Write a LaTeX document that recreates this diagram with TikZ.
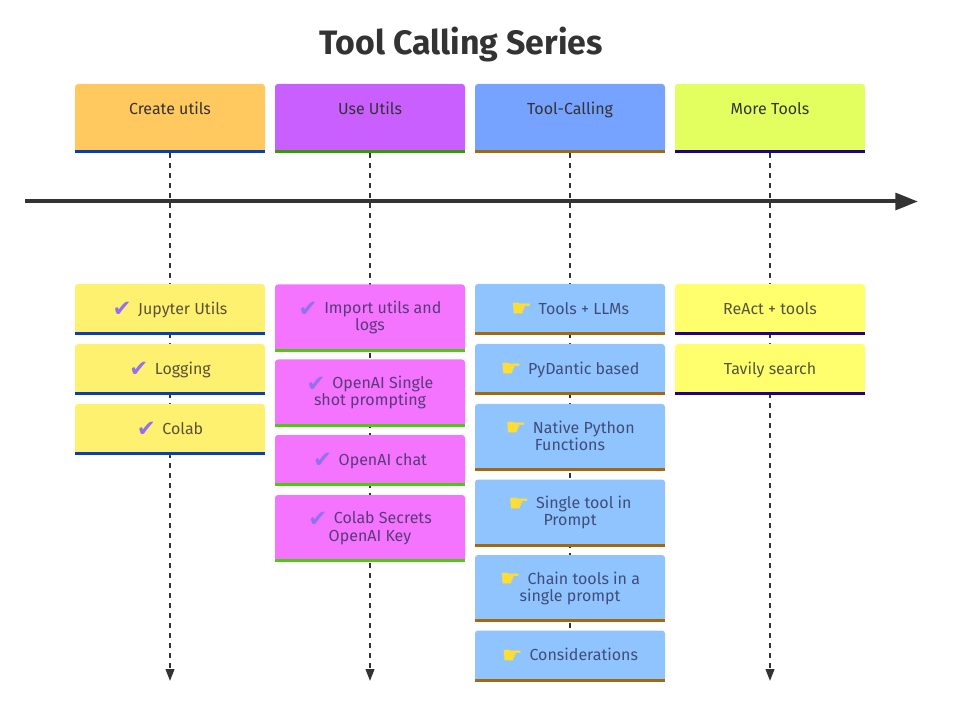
\documentclass[tikz,border=0pt]{standalone}
\usepackage{fontspec}
\setmainfont{Fira Sans}
\newfontfamily\symbolfont{DejaVu Sans}
\usetikzlibrary{arrows.meta,backgrounds}
\definecolor{headOrange}{HTML}{FFC95F}
\definecolor{headPurple}{HTML}{C95FFF}
\definecolor{headBlue}{HTML}{75A3FF}
\definecolor{headLime}{HTML}{E3FF5F}
\definecolor{cardYellow}{HTML}{FFF170}
\definecolor{cardPink}{HTML}{F473FF}
\definecolor{cardBlue}{HTML}{90C4FF}
\definecolor{cardLemon}{HTML}{FFFF6E}
\definecolor{barNavy}{HTML}{0A3DB8}
\definecolor{barGreen}{HTML}{2FA000}
\definecolor{barLeaf}{HTML}{4BCB0B}
\definecolor{barBrown}{HTML}{A3690E}
\definecolor{barIndigo}{HTML}{20008F}
\definecolor{lineGrey}{HTML}{333333}
\definecolor{textBrown}{HTML}{5A5238}
\definecolor{textPlum}{HTML}{5A3A78}
\definecolor{textSlate}{HTML}{3F4D7A}
\definecolor{textOlive}{HTML}{55553A}
\definecolor{tickViolet}{HTML}{9370F0}
\definecolor{handYellow}{HTML}{FFDD33}
\newcommand{\tick}{\smash{\raisebox{-2pt}{\fontsize{17}{17}\symbolfont\textcolor{tickViolet}{\char"2714}}}\hspace{5pt}}
\newcommand{\hand}{\smash{\raisebox{-2pt}{\fontsize{17.5}{17.5}\symbolfont\textcolor{handYellow}{\char"261B}}}\hspace{5pt}}
\newcommand{\linestrut}{\rule[-3pt]{0pt}{13pt}}
\tikzset{
  card/.style={fill=#1,rounded corners=2.25pt,minimum width=142.5pt,inner sep=0pt,
    align=center,font=\fontsize{12}{13.1}\selectfont,
    execute at begin node=\linestrut,execute at end node=\linestrut},
  head/.style={card=#1,minimum height=51.75pt,text height=9pt,text depth=15pt,text=lineGrey},
  drop/.style={draw=lineGrey,line width=1.5pt,dash pattern=on 3.75pt off 3.75pt,
    -{Triangle[length=9pt,width=6.5pt]}},
  timeline/.style={draw=lineGrey,line width=3pt,-{Triangle[length=17pt,width=12.5pt]}}
}
\begin{document}
\begin{tikzpicture}[x=0.75pt,y=-0.75pt]
  \useasboundingbox (0,0) rectangle (960,716);
  \node (title) at (461,44.5) [font=\fontsize{25.4}{27}\selectfont\bfseries,text=lineGrey] {Tool Calling Series};
  % headers
  \node (create) at (170,118.5) [head=headOrange] {Create utils};
  \node (use) at (370,118.5) [head=headPurple] {Use Utils};
  \node (calling) at (570,118.5) [head=headBlue] {Tool-Calling};
  \node (more) at (770,118.5) [head=headLime] {More Tools};
  \fill [barNavy] (create.south west) rectangle ([yshift=2.4pt]create.south east);
  \fill [barGreen] (use.south west) rectangle ([yshift=2.4pt]use.south east);
  \fill [barBrown] (calling.south west) rectangle ([yshift=2.4pt]calling.south east);
  \fill [barIndigo] (more.south west) rectangle ([yshift=2.4pt]more.south east);
  % first column
  \node (jupyter) at (170,309.5) [card=cardYellow,minimum height=38.25pt,text=textBrown] {\tick Jupyter Utils};
  \node (logging) at (170,369.5) [card=cardYellow,minimum height=38.25pt,text=textBrown] {\tick Logging};
  \node (colab) at (170,429.5) [card=cardYellow,minimum height=38.25pt,text=textBrown] {\tick Colab};
  \fill [barNavy] (jupyter.south west) rectangle ([yshift=2.4pt]jupyter.south east);
  \fill [barNavy] (logging.south west) rectangle ([yshift=2.4pt]logging.south east);
  \fill [barNavy] (colab.south west) rectangle ([yshift=2.4pt]colab.south east);
  % second column
  \node (import) at (370,318) [card=cardPink,minimum height=50.25pt,text=textPlum] {\tick Import utils and\\logs};
  \node (single) at (370,393) [card=cardPink,minimum height=50.25pt,text=textPlum] {\tick OpenAI Single\\shot prompting};
  \node (chat) at (370,460.5) [card=cardPink,minimum height=38.25pt,text=textPlum] {\tick OpenAI chat};
  \node (secrets) at (370,528.5) [card=cardPink,minimum height=50.25pt,text=textPlum] {\tick Colab Secrets\\OpenAI Key};
  \fill [barLeaf] (import.south west) rectangle ([yshift=2.4pt]import.south east);
  \fill [barLeaf] (single.south west) rectangle ([yshift=2.4pt]single.south east);
  \fill [barLeaf] (chat.south west) rectangle ([yshift=2.4pt]chat.south east);
  \fill [barLeaf] (secrets.south west) rectangle ([yshift=2.4pt]secrets.south east);
  % third column
  \node (llms) at (570,309.5) [card=cardBlue,minimum height=38.25pt,text=textSlate] {\hand Tools + LLMs};
  \node (pydantic) at (570,369.5) [card=cardBlue,minimum height=38.25pt,text=textSlate] {\hand PyDantic based};
  \node (native) at (570,437.5) [card=cardBlue,minimum height=50.25pt,text=textSlate] {\hand Native Python\\Functions};
  \node (prompt) at (570,513) [card=cardBlue,minimum height=50.25pt,text=textSlate] {\hand Single tool in\\Prompt};
  \node (chain) at (570,588.5) [card=cardBlue,minimum height=50.25pt,text=textSlate] {\hand Chain tools in a\\single prompt};
  \node (consider) at (570,656) [card=cardBlue,minimum height=38.25pt,text=textSlate] {\hand Considerations};
  \fill [barBrown] (llms.south west) rectangle ([yshift=2.4pt]llms.south east);
  \fill [barBrown] (pydantic.south west) rectangle ([yshift=2.4pt]pydantic.south east);
  \fill [barBrown] (native.south west) rectangle ([yshift=2.4pt]native.south east);
  \fill [barBrown] (prompt.south west) rectangle ([yshift=2.4pt]prompt.south east);
  \fill [barBrown] (chain.south west) rectangle ([yshift=2.4pt]chain.south east);
  \fill [barBrown] (consider.south west) rectangle ([yshift=2.4pt]consider.south east);
  % fourth column
  \node (react) at (770,309.5) [card=cardLemon,minimum height=38.25pt,text=textOlive] {ReAct + tools};
  \node (tavily) at (770,369.5) [card=cardLemon,minimum height=38.25pt,text=textOlive] {Tavily search};
  \fill [barIndigo] (react.south west) rectangle ([yshift=2.4pt]react.south east);
  \fill [barIndigo] (tavily.south west) rectangle ([yshift=2.4pt]tavily.south east);
  % connectors behind the cards
  \coordinate (start) at (25,201.5);
  \coordinate (finish) at (918,201.5);
  \coordinate (endcreate) at (170,681);
  \coordinate (enduse) at (370,681);
  \coordinate (endcalling) at (570,681);
  \coordinate (endmore) at (770,681);
  \begin{scope}[on background layer]
    \draw [drop] (create.south) -- (endcreate);
    \draw [drop] (use.south) -- (enduse);
    \draw [drop] (calling.south) -- (endcalling);
    \draw [drop] (more.south) -- (endmore);
    \draw [timeline] (start) -- (finish);
  \end{scope}
\end{tikzpicture}
\end{document}
